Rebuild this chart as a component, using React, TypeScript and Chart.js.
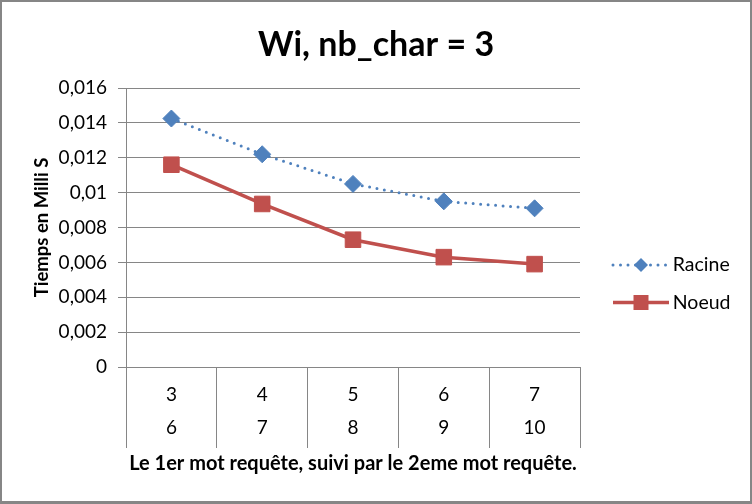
import React, { useEffect, useRef } from 'react';
import { Chart, registerables } from 'chart.js';

Chart.register(...registerables);

// ---- data ----
const categories: string[][] = [['3', '6'], ['4', '7'], ['5', '8'], ['6', '9'], ['7', '10']];
const racine: number[] = [0.01425, 0.0122, 0.0105, 0.0095, 0.0091];
const noeud: number[] = [0.0116, 0.00935, 0.0073, 0.0063, 0.0059];
const yTickLabels: string[] = ['0', '0,002', '0,004', '0,006', '0,008', '0,01', '0,012', '0,014', '0,016'];
const seriesNames: string[] = ['Racine', 'Noeud'];
const chartTitle = 'Wi, nb_char = 3';
const xTitle = 'Le 1er mot requête, suivi par le 2eme mot requête.';
const yTitle = 'Tiemps en Milli S';

const BLUE = '#4F81BD';
const RED = '#C0504D';
const GRID = '#868686';
const LEGEND_WIDTH = 170;

const legendWidthFix = {
  id: 'legendWidthFix',
  beforeLayout(chart: any) {
    const lg = chart.legend;
    if (lg && !lg.__patched) {
      const orig = lg.fit.bind(lg);
      lg.fit = () => {
        orig();
        lg.width = LEGEND_WIDTH;
      };
      lg.__patched = true;
    }
  },
};

const legendMarkers = {
  id: 'legendMarkers',
  afterDraw(chart: any) {
    const legend = chart.legend;
    if (!legend || !legend.legendHitBoxes) return;
    const ctx = chart.ctx;
    legend.legendHitBoxes.forEach((hb: any, i: number) => {
      const ds: any = chart.data.datasets[i];
      const y = hb.top + hb.height / 2;
      const x0 = hb.left + 15;
      const x1 = x0 + 56;
      ctx.save();
      ctx.strokeStyle = ds.borderColor;
      ctx.lineWidth = ds.borderWidth;
      ctx.setLineDash(ds.borderDash || []);
      ctx.lineCap = ds.borderCapStyle || 'butt';
      ctx.beginPath();
      ctx.moveTo(x0, y);
      ctx.lineTo(x1, y);
      ctx.stroke();
      ctx.setLineDash([]);
      ctx.fillStyle = ds.pointBackgroundColor;
      const cx = (x0 + x1) / 2;
      ctx.beginPath();
      if (ds.pointStyle === 'rectRot') {
        const r = 7;
        ctx.moveTo(cx, y - r);
        ctx.lineTo(cx + r, y);
        ctx.lineTo(cx, y + r);
        ctx.lineTo(cx - r, y);
        ctx.closePath();
      } else {
        const s = 7.5;
        ctx.rect(cx - s, y - s, 2 * s, 2 * s);
      }
      ctx.fill();
      ctx.restore();
    });
  },
};

export default function App() {
  const ref = useRef<HTMLCanvasElement>(null);

  useEffect(() => {
    Chart.defaults.font.family = 'Lato, "Noto Sans", sans-serif';
    Chart.defaults.color = '#000';
    const chart = new Chart(ref.current as HTMLCanvasElement, {
      type: 'line',
      data: {
        labels: categories,
        datasets: [
          {
            label: seriesNames[0],
            data: racine,
            borderColor: BLUE,
            backgroundColor: BLUE,
            pointBackgroundColor: BLUE,
            pointBorderColor: BLUE,
            borderWidth: 3,
            borderDash: [0, 7.5],
            borderCapStyle: 'round',
            pointStyle: 'rectRot',
            pointRadius: 8.5,
            pointBorderWidth: 1,
            tension: 0,
          } as any,
          {
            label: seriesNames[1],
            data: noeud,
            borderColor: RED,
            backgroundColor: RED,
            pointBackgroundColor: RED,
            pointBorderColor: RED,
            borderWidth: 3.5,
            pointStyle: 'rect',
            pointRadius: 11,
            pointBorderWidth: 1,
            tension: 0,
          } as any,
        ],
      },
      options: {
        responsive: false,
        animation: false,
        devicePixelRatio: 1,
        layout: { padding: { left: 0, top: 0, bottom: 0, right: 0 } },
        plugins: {
          title: {
            display: true,
            text: chartTitle,
            color: '#000',
            font: { size: 34, weight: 'bold', lineHeight: 1.2 },
            padding: { top: 22.6, bottom: 22.6 },
          },
          legend: {
            display: true,
            position: 'right',
            title: { display: true, text: ' ', font: { size: 18, lineHeight: 1.2 }, padding: { top: 42.9, bottom: 0 } },
            labels: {
              boxWidth: 65,
              boxHeight: 18,
              padding: 18,
              color: '#000',
              font: { size: 19.5 },
              generateLabels: (c: any) =>
                c.data.datasets.map((ds: any, i: number) => ({
                  text: ds.label,
                  fillStyle: 'rgba(0,0,0,0)',
                  strokeStyle: 'rgba(0,0,0,0)',
                  lineWidth: 0,
                  hidden: false,
                  datasetIndex: i,
                  fontColor: '#000',
                })),
            },
          },
          tooltip: { enabled: false },
        },
        scales: {
          x: {
            offset: true,
            grid: {
              display: true,
              offset: true,
              drawOnChartArea: false,
              drawTicks: true,
              tickLength: 81,
              color: GRID,
              lineWidth: 1,
            },
            border: { display: true, color: GRID, width: 1 },
            ticks: {
              padding: -69.5,
              color: '#000',
              font: { size: 19, lineHeight: 33 / 19 },
              maxRotation: 0,
              autoSkip: false,
            },
            title: {
              display: true,
              text: xTitle,
              color: '#000',
              font: { size: 20, weight: 'bold', lineHeight: 1.2 },
              padding: { top: 0, bottom: 25 },
            },
            afterFit: (s: any) => {
              s.height = 134;
            },
          },
          y: {
            min: 0,
            max: 0.016,
            ticks: {
              stepSize: 0.002,
              padding: 11,
              color: '#000',
              font: { size: 19 },
              callback: (_v: any, i: number) => yTickLabels[i],
            },
            grid: { color: GRID, tickLength: 8, drawTicks: true, lineWidth: 1 },
            border: { display: true, color: GRID, width: 1 },
            title: {
              display: true,
              text: yTitle,
              color: '#000',
              font: { size: 18.5, weight: 'bold', lineHeight: 1.2 },
              padding: { top: 28.9, bottom: 0 },
            },
            afterFit: (s: any) => {
              s.width = 124;
            },
          },
        },
      } as any,
      plugins: [legendWidthFix, legendMarkers],
    });
    return () => chart.destroy();
  }, []);

  return (
    <div
      style={{
        position: 'absolute',
        left: 0,
        top: 0,
        width: 752,
        height: 504,
        boxSizing: 'border-box',
        borderStyle: 'solid',
        borderColor: GRID,
        borderWidth: '2px 2px 3px 2px',
        background: '#fff',
      }}
    >
      <canvas ref={ref} width={748} height={499} style={{ display: 'block', width: 748, height: 499 }} />
    </div>
  );
}
